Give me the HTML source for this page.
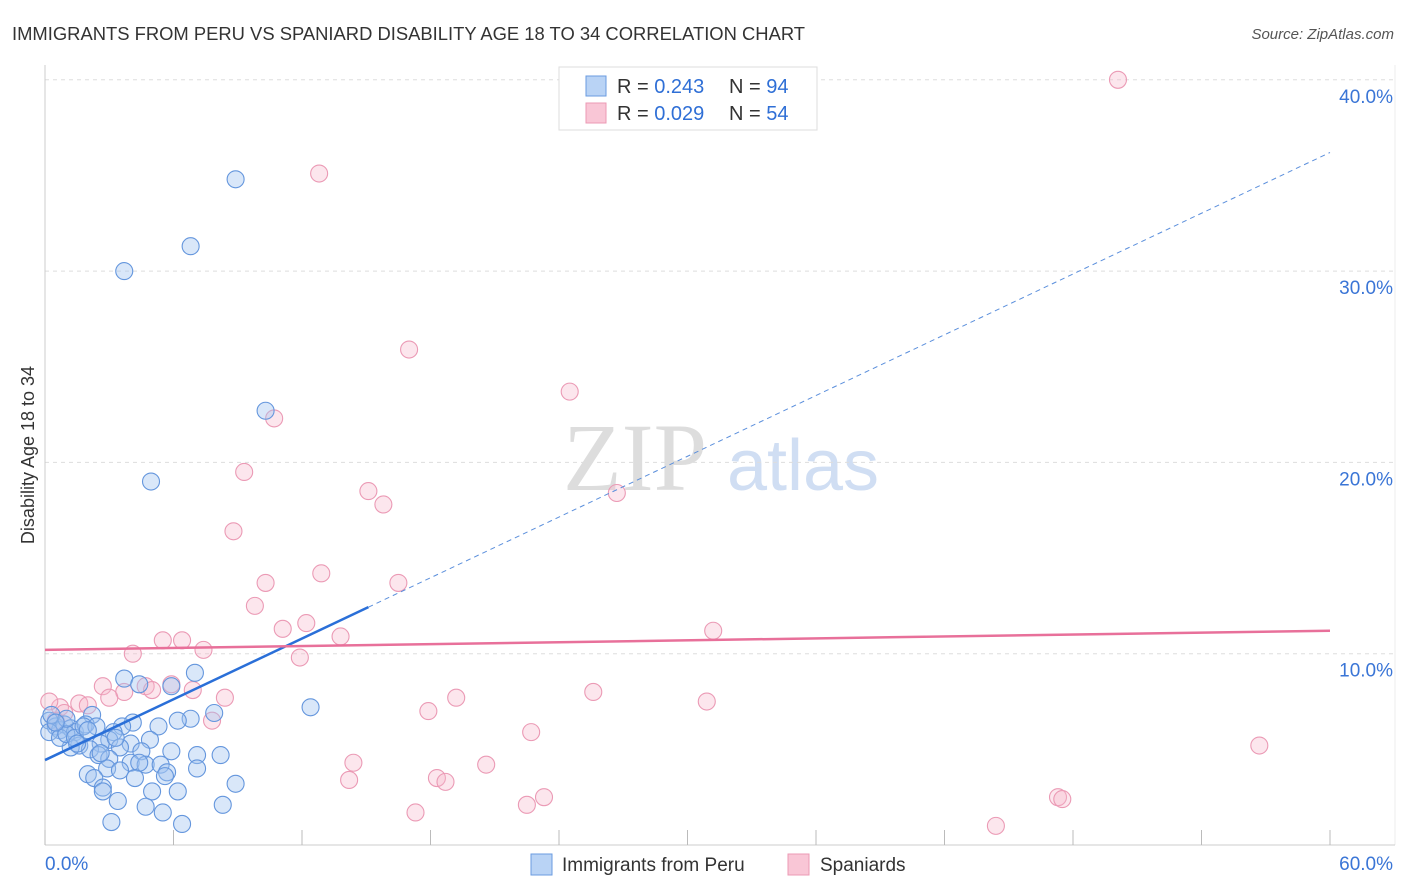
<!DOCTYPE html>
<html><head><meta charset="utf-8"><style>
body{margin:0;background:#fff;font-family:"Liberation Sans",sans-serif;}
svg{display:block}
</style></head><body>
<svg id="chart" width="1406" height="892" xmlns="http://www.w3.org/2000/svg">
<text x="12" y="40" font-size="18.4" fill="#333">IMMIGRANTS FROM PERU VS SPANIARD DISABILITY AGE 18 TO 34 CORRELATION CHART</text>
<text x="1394" y="39" font-size="15" fill="#555" text-anchor="end" font-style="italic">Source: ZipAtlas.com</text>
<text x="635" y="490" font-size="96" fill="#ddd" font-family="Liberation Serif,serif" text-anchor="middle">ZIP</text>
<text x="803" y="490" font-size="72" fill="#d0def3" text-anchor="middle">atlas</text>
<text transform="translate(34,455) rotate(-90)" font-size="18" fill="#333" text-anchor="middle">Disability Age 18 to 34</text>
<g id="grid"></g><g id="ticks"></g><g id="pts"></g><g id="trends"></g>
<g>
<rect x="559" y="67" width="258" height="63" fill="#fff" stroke="#ddd"/>
<rect x="586" y="76" width="20" height="20" fill="#b9d3f5" stroke="#6a9be0"/>
<rect x="586" y="103" width="20" height="20" fill="#f9c6d6" stroke="#ec9ab4"/>
<text x="617" y="93" font-size="20" fill="#333">R = <tspan fill="#2f6fd6">0.243</tspan></text>
<text x="729" y="93" font-size="20" fill="#333">N = <tspan fill="#2f6fd6">94</tspan></text>
<text x="617" y="120" font-size="20" fill="#333">R = <tspan fill="#2f6fd6">0.029</tspan></text>
<text x="729" y="120" font-size="20" fill="#333">N = <tspan fill="#2f6fd6">54</tspan></text>
</g>
<g>
<rect x="531" y="854" width="21" height="21" fill="#b9d3f5" stroke="#6a9be0"/>
<text x="562" y="871" font-size="19" fill="#333">Immigrants from Peru</text>
<rect x="788" y="854" width="21" height="21" fill="#f9c6d6" stroke="#ec9ab4"/>
<text x="820" y="871" font-size="19" fill="#333">Spaniards</text>
</g>
</svg>
<script>
const yTicks=[10,20,30,40];
const yTickLabels=["10.0%","20.0%","30.0%","40.0%"];
const xTicks=[0,6,12,18,24,30,36,42,48,54,60];
const blueX=[8.9,6.8,3.7,10.3,4.95,7.0,3.7,4.4,5.9,12.4,7.9,2.2,6.8,6.2,4.1,3.6,5.3,0.2,0.5,0.7,0.9,1.2,1.4,1.9,0.2,3.2,3.0,4.9,4.0,2.6,1.6,1.2,2.1,3.5,4.5,5.9,2.5,3.0,7.1,8.2,4.0,4.7,5.4,4.4,2.9,3.5,2.0,2.3,5.7,7.1,4.2,5.6,8.9,2.7,2.7,5.0,6.2,3.4,8.3,4.7,5.5,3.1,6.4,0.7,1.0,1.4,0.3,1.8,2.4,1.0,0.5,1.5,2.0,3.3,2.6];
const blueY=[34.8,31.3,30.0,22.7,19.0,9.0,8.7,8.4,8.3,7.2,6.9,6.8,6.6,6.5,6.4,6.2,6.2,6.5,6.2,6.0,6.3,6.1,5.9,6.3,5.9,5.9,5.5,5.5,5.3,5.3,5.2,5.1,5.0,5.1,4.9,4.9,4.7,4.5,4.7,4.7,4.3,4.2,4.2,4.3,4.0,3.9,3.7,3.5,3.8,4.0,3.5,3.6,3.2,3.0,2.8,2.8,2.8,2.3,2.1,2.0,1.7,1.2,1.1,5.6,5.8,5.6,6.8,6.2,6.2,6.6,6.4,5.3,6.0,5.6,4.8];
const pinkX=[50.1,12.8,17.0,24.5,10.7,9.3,15.1,15.8,26.7,8.8,10.3,12.9,16.5,9.8,12.2,11.1,31.2,13.8,5.5,6.4,7.4,4.1,11.9,2.7,5.9,4.7,3.7,5.0,6.9,3.0,8.4,25.6,19.2,30.9,1.6,2.0,0.7,0.2,17.9,7.8,22.7,56.7,14.4,20.6,14.2,18.3,18.7,23.3,22.5,47.3,47.5,17.3,44.4,0.5,0.9];
const pinkY=[40.0,35.1,25.9,23.7,22.3,19.5,18.5,17.8,18.4,16.4,13.7,14.2,13.7,12.5,11.6,11.3,11.2,10.9,10.7,10.7,10.2,10.0,9.8,8.3,8.4,8.3,8.0,8.1,8.1,7.7,7.7,8.0,7.7,7.5,7.4,7.3,7.2,7.5,7.0,6.5,5.9,5.2,4.3,4.2,3.4,3.5,3.3,2.5,2.1,2.5,2.4,1.7,1.0,6.5,6.9];
const blueTrend=[4.44,36.2];
const pinkTrend=[10.2,11.2];
const NS="http://www.w3.org/2000/svg";
const X=v=>45+v/60*1285, Y=v=>845-v*19.13;
function mk(t,a,p){const e=document.createElementNS(NS,t);for(const k in a)e.setAttribute(k,a[k]);document.getElementById(p).appendChild(e);return e;}
yTicks.forEach((t,i)=>{
 const l=mk('line',{x1:45,x2:1395,y1:Y(t),y2:Y(t),stroke:'#ddd','stroke-dasharray':'4,4'},'grid');
 
 
 const tx=mk('text',{x:1393,y:Y(t)+23,'font-size':19,fill:'#3a75d6','text-anchor':'end'},'grid');
 tx.textContent=yTickLabels[i];
 
 
});
mk('line',{x1:1395,x2:1395,y1:65,y2:845,stroke:'#eee'},'grid');
const g=mk('line',{x1:45,x2:45,y1:65,y2:845,stroke:'#ccc'},'ticks');


const xa=mk('line',{x1:45,x2:1395,y1:845,y2:845,stroke:'#ccc'},'ticks');


xTicks.forEach(t=>{const l=mk('line',{x1:X(t),x2:X(t),y1:830,y2:845,stroke:'#bbb'},'ticks');
 
 });
const x0=mk('text',{x:45,y:870,'font-size':19,fill:'#3a75d6'},'ticks');x0.textContent='0.0%';


const x1=mk('text',{x:1393,y:870,'font-size':19,fill:'#3a75d6','text-anchor':'end'},'ticks');x1.textContent='60.0%';


pinkX.forEach((v,i)=>{const c=mk('circle',{cx:X(v),cy:Y(pinkY[i]),r:8.5,fill:'rgba(247,183,203,0.35)',stroke:'#eb9ab5','stroke-width':1.1},'pts');
 
 });
blueX.forEach((v,i)=>{const c=mk('circle',{cx:X(v),cy:Y(blueY[i]),r:8.5,fill:'rgba(160,196,240,0.4)',stroke:'#6496dd','stroke-width':1.1},'pts');
 
 });
const bx=15.1, by=blueTrend[0]+(blueTrend[1]-blueTrend[0])*bx/60;
const b1=mk('line',{x1:X(0),y1:Y(blueTrend[0]),x2:X(bx),y2:Y(by),stroke:'#2a6fd8','stroke-width':2.5},'trends');


const b2=mk('line',{x1:X(bx),y1:Y(by),x2:X(60),y2:Y(blueTrend[1]),stroke:'#5b8fdc','stroke-width':1,'stroke-dasharray':'5,4'},'trends');


const p1=mk('line',{x1:X(0),y1:Y(pinkTrend[0]),x2:X(60),y2:Y(pinkTrend[1]),stroke:'#e8709a','stroke-width':2.5},'trends');


</script>
</body></html>
